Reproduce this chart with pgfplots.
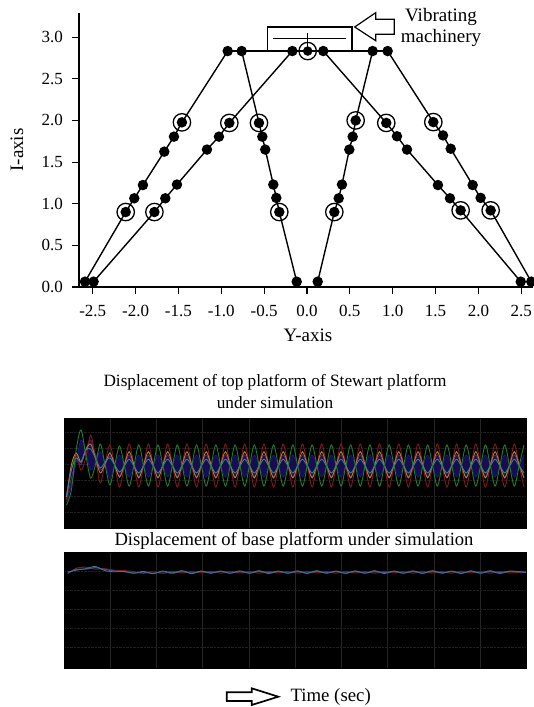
\documentclass[border=0pt]{standalone}
\usepackage{pgfplots}
\pgfplotsset{compat=1.18}
\usepackage{pgfplotstable}
\usepackage{fontspec}
\setmainfont{Liberation Serif}

\definecolor{sgreen}{HTML}{1C7F2C}
\definecolor{sred}{HTML}{7E1A18}
\definecolor{sorange}{HTML}{B57E2E}
\definecolor{steal}{HTML}{35808A}
\definecolor{sblue}{HTML}{1C1A86}
\definecolor{spurple}{HTML}{5E1F80}
\definecolor{lens}{HTML}{160E50}

% top platform, sampled four times a period
\pgfplotstableread{
x g r o t b p
0.53 -2.56 -2.25 -2.06 -1.94 -2.38 -2.25
1.53 -1.63 -0.38 -0.06 -0.38 -1.31 -0.88
2.53 0.88 0.56 0.69 0.38 0.12 0.25
3.53 2.13 -0.38 0.12 0.12 1.50 -0.06
4.53 0.56 0.38 0.88 0.88 0.75 0.88
5.53 -0.88 1.81 1.25 0.94 -0.38 1.50
6.53 -0.06 0.38 0.38 0.38 0.12 0.56
7.53 1.25 -1.19 -0.56 -0.25 0.75 -0.38
8.53 -0.06 0.06 0 0.12 0 0
9.53 -1.31 1.19 0.69 0.38 -0.88 0.50
10.53 -0.06 -0.06 -0.06 -0.06 -0.06 -0.06
11.53 1.12 -1.44 -0.81 -0.50 0.56 -0.81
12.53 -0.10 -0.10 -0.05 -0.13 -0.12 -0.12
13.53 -1.38 1.25 0.77 0.30 -0.81 0.56
14.53 -0.10 -0.10 -0.05 -0.13 -0.12 -0.12
15.53 1.19 -1.44 -0.87 -0.56 0.56 -0.81
16.53 -0.10 -0.10 -0.05 -0.13 -0.12 -0.12
17.53 -1.38 1.25 0.77 0.30 -0.81 0.56
18.53 -0.10 -0.10 -0.05 -0.13 -0.12 -0.12
19.53 1.19 -1.44 -0.87 -0.56 0.56 -0.81
20.53 -0.10 -0.10 -0.05 -0.13 -0.12 -0.12
21.53 -1.38 1.25 0.77 0.30 -0.81 0.56
22.53 -0.10 -0.10 -0.05 -0.13 -0.12 -0.12
23.53 1.19 -1.44 -0.87 -0.56 0.56 -0.81
24.53 -0.10 -0.10 -0.05 -0.13 -0.12 -0.12
25.53 -1.38 1.25 0.77 0.30 -0.81 0.56
26.53 -0.10 -0.10 -0.05 -0.13 -0.12 -0.12
27.53 1.19 -1.44 -0.87 -0.56 0.56 -0.81
28.53 -0.10 -0.10 -0.05 -0.13 -0.12 -0.12
29.53 -1.38 1.25 0.77 0.30 -0.81 0.56
30.53 -0.10 -0.10 -0.05 -0.13 -0.12 -0.12
31.53 1.19 -1.44 -0.87 -0.56 0.56 -0.81
32.53 -0.10 -0.10 -0.05 -0.13 -0.12 -0.12
33.53 -1.38 1.25 0.77 0.30 -0.81 0.56
34.53 -0.10 -0.10 -0.05 -0.13 -0.12 -0.12
35.53 1.19 -1.44 -0.87 -0.56 0.56 -0.81
36.53 -0.10 -0.10 -0.05 -0.13 -0.12 -0.12
37.53 -1.38 1.25 0.77 0.30 -0.81 0.56
38.53 -0.10 -0.10 -0.05 -0.13 -0.12 -0.12
39.53 1.19 -1.44 -0.87 -0.56 0.56 -0.81
40.53 -0.10 -0.10 -0.05 -0.13 -0.12 -0.12
41.53 -1.38 1.25 0.77 0.30 -0.81 0.56
42.53 -0.10 -0.10 -0.05 -0.13 -0.12 -0.12
43.53 1.19 -1.44 -0.87 -0.56 0.56 -0.81
44.53 -0.10 -0.10 -0.05 -0.13 -0.12 -0.12
45.53 -1.38 1.25 0.77 0.30 -0.81 0.56
46.53 -0.10 -0.10 -0.05 -0.13 -0.12 -0.12
47.53 1.19 -1.44 -0.87 -0.56 0.56 -0.81
48.53 -0.10 -0.10 -0.05 -0.13 -0.12 -0.12
49.53 -1.38 1.25 0.77 0.30 -0.81 0.56
50.53 -0.10 -0.10 -0.05 -0.13 -0.12 -0.12
51.53 1.19 -1.44 -0.87 -0.56 0.56 -0.81
52.53 -0.10 -0.10 -0.05 -0.13 -0.12 -0.12
53.53 -1.38 1.25 0.77 0.30 -0.81 0.56
54.53 -0.10 -0.10 -0.05 -0.13 -0.12 -0.12
55.53 1.19 -1.44 -0.87 -0.56 0.56 -0.81
56.53 -0.10 -0.10 -0.05 -0.13 -0.12 -0.12
57.53 -1.38 1.25 0.77 0.30 -0.81 0.56
58.53 -0.10 -0.10 -0.05 -0.13 -0.12 -0.12
59.53 1.19 -1.44 -0.87 -0.56 0.56 -0.81
60.53 -0.10 -0.10 -0.05 -0.13 -0.12 -0.12
61.53 -1.38 1.25 0.77 0.30 -0.81 0.56
62.53 -0.10 -0.10 -0.05 -0.13 -0.12 -0.12
63.53 1.19 -1.44 -0.87 -0.56 0.56 -0.81
64.53 -0.10 -0.10 -0.05 -0.13 -0.12 -0.12
65.53 -1.38 1.25 0.77 0.30 -0.81 0.56
66.53 -0.10 -0.10 -0.05 -0.13 -0.12 -0.12
67.53 1.19 -1.44 -0.87 -0.56 0.56 -0.81
68.53 -0.10 -0.10 -0.05 -0.13 -0.12 -0.12
69.53 -1.38 1.25 0.77 0.30 -0.81 0.56
70.53 -0.10 -0.10 -0.05 -0.13 -0.12 -0.12
71.53 1.19 -1.44 -0.87 -0.56 0.56 -0.81
72.53 -0.10 -0.10 -0.05 -0.13 -0.12 -0.12
73.53 -1.38 1.25 0.77 0.30 -0.81 0.56
74.53 -0.10 -0.10 -0.05 -0.13 -0.12 -0.12
75.53 1.19 -1.44 -0.87 -0.56 0.56 -0.81
76.53 -0.10 -0.10 -0.05 -0.13 -0.12 -0.12
77.53 -1.38 1.25 0.77 0.30 -0.81 0.56
78.53 -0.10 -0.10 -0.05 -0.13 -0.12 -0.12
79.53 1.19 -1.44 -0.87 -0.56 0.56 -0.81
80.53 -0.10 -0.10 -0.05 -0.13 -0.12 -0.12
81.53 -1.38 1.25 0.77 0.30 -0.81 0.56
82.53 -0.10 -0.10 -0.05 -0.13 -0.12 -0.12
83.53 1.19 -1.44 -0.87 -0.56 0.56 -0.81
84.53 -0.10 -0.10 -0.05 -0.13 -0.12 -0.12
85.53 -1.38 1.25 0.77 0.30 -0.81 0.56
86.53 -0.10 -0.10 -0.05 -0.13 -0.12 -0.12
87.53 1.19 -1.44 -0.87 -0.56 0.56 -0.81
88.53 -0.10 -0.10 -0.05 -0.13 -0.12 -0.12
89.53 -1.38 1.25 0.77 0.30 -0.81 0.56
90.53 -0.10 -0.10 -0.05 -0.13 -0.12 -0.12
91.53 1.19 -1.44 -0.87 -0.56 0.56 -0.81
92.53 -0.10 -0.10 -0.05 -0.13 -0.12 -0.12
93.53 -1.38 1.25 0.77 0.30 -0.81 0.56
94.53 -0.10 -0.10 -0.05 -0.13 -0.12 -0.12
95.53 1.19 -1.44 -0.87 -0.56 0.56 -0.81
}\toptable

% base platform
\pgfplotstableread{
x b r t
0.8 -0.10 -0.14 -0.06
2.5 0.08 0.14 0.04
4.5 0.10 0.20 0.12
6.5 0.18 0.10 0.24
8.5 0.08 0.12 0.02
10.5 0.00 0.04 -0.04
12.5 -0.04 0.02 -0.02
14.5 -0.10 -0.04 -0.12
16.5 -0.06 -0.12 -0.02
18.5 -0.12 -0.04 -0.14
20.5 -0.04 -0.12 0.00
22.5 -0.12 -0.02 -0.10
24.5 -0.02 -0.10 0.02
26.5 -0.10 -0.03 -0.14
28.5 -0.02 -0.10 0.00
30.5 -0.09 -0.02 -0.12
32.5 -0.02 -0.11 0.00
34.5 -0.10 -0.02 -0.12
36.5 -0.03 -0.10 0.01
38.5 -0.10 -0.03 -0.12
40.5 -0.02 -0.11 0.02
42.5 -0.09 -0.02 -0.13
44.5 -0.02 -0.10 0.00
46.5 -0.10 -0.03 -0.12
48.5 -0.03 -0.11 0.01
50.5 -0.10 -0.02 -0.13
52.5 -0.02 -0.10 0.02
54.5 -0.09 -0.03 -0.12
56.5 -0.03 -0.11 0.00
58.5 -0.10 -0.02 -0.13
60.5 -0.02 -0.10 0.01
62.5 -0.10 -0.03 -0.12
64.5 -0.03 -0.11 0.02
66.5 -0.09 -0.02 -0.13
68.5 -0.02 -0.10 0.00
70.5 -0.10 -0.03 -0.12
72.5 -0.03 -0.11 0.01
74.5 -0.10 -0.02 -0.13
76.5 -0.02 -0.10 0.02
78.5 -0.09 -0.03 -0.12
80.5 -0.03 -0.11 0.00
82.5 -0.10 -0.02 -0.13
84.5 -0.02 -0.10 0.01
86.5 -0.10 -0.03 -0.12
88.5 -0.03 -0.11 0.02
90.5 -0.09 -0.02 -0.13
92.5 -0.02 -0.10 0.00
95.9 -0.08 -0.05 -0.06
}\basetable

\pgfplotsset{
  scope panel/.style={
    scale only axis,
    width=462pt,
    xmin=0, xmax=95.95,
    xtick={9.6,19.2,28.8,38.4,48,57.6,67.2,76.8,86.4},
    xticklabels={},
    yticklabels={},
    major tick length=0pt,
    grid=both,
    axis background/.style={fill=black},
    axis line style={line width=0.8pt, black},
    x grid style={gray!28!black, line width=0.6pt},
    y grid style={gray!24!black, densely dotted, line width=0.5pt},
  },
}

\begin{document}
\begin{tikzpicture}[x=1pt,y=1pt]
\useasboundingbox (0,0) rectangle (533,707);

\begin{axis}[
    at={(79pt,420pt)}, anchor=south west,
    scale only axis, width=454pt, height=274pt,
    xmin=-2.66, xmax=2.637,
    ymin=0, ymax=3.29,
    clip=false,
    axis lines=left,
    axis line style={-, line width=1.6pt},
    tick style={black, line width=1.1pt},
    tick align=outside,
    major tick length=7pt,
    xtick={-2.5,-2,-1.5,-1,-0.5,0,0.5,1,1.5,2,2.5},
    xticklabels={-2.5,-2.0,-1.5,-1.0,-0.5,0.0,0.5,1.0,1.5,2.0,2.5},
    ytick={0,0.5,1,1.5,2,2.5,3},
    yticklabels={0.0,0.5,1.0,1.5,2.0,2.5,3.0},
    tick label style={font=\fontsize{17}{19}\selectfont, inner sep=0pt},
    x tick label style={yshift=-11pt},
    y tick label style={xshift=-9pt},
  ]
  \addplot[black, line width=1.4pt, mark=*, mark size=4.5pt, mark options={fill=black, solid}] coordinates {
    (-2.59,0.064)(-2.115,0.90)(-2.015,1.065)(-1.914,1.224)(-1.665,1.625)(-1.552,1.805)(-1.459,1.977)(-0.925,2.833)};
  \addplot[black, line width=1.4pt, mark=*, mark size=4.5pt, mark options={fill=black, solid}] coordinates {
    (-2.49,0.064)(-1.78,0.90)(-1.653,1.065)(-1.517,1.23)(-1.167,1.65)(-1.027,1.805)(-0.906,1.97)(-0.171,2.833)};
  \addplot[black, line width=1.4pt, mark=*, mark size=4.5pt, mark options={fill=black, solid}] coordinates {
    (-0.762,2.833)(-0.56,1.97)(-0.521,1.805)(-0.487,1.65)(-0.393,1.23)(-0.358,1.07)(-0.323,0.90)(-0.12,0.064)};
  \addplot[black, line width=1.4pt, mark=*, mark size=4.5pt, mark options={fill=black, solid}] coordinates {
    (0.125,0.064)(0.319,0.90)(0.37,1.065)(0.408,1.23)(0.494,1.65)(0.533,1.805)(0.568,2.0)(0.766,2.833)};
  \addplot[black, line width=1.4pt, mark=*, mark size=4.5pt, mark options={fill=black, solid}] coordinates {
    (0.19,2.833)(0.925,1.97)(1.05,1.81)(1.167,1.65)(1.528,1.224)(1.668,1.065)(1.793,0.92)(2.494,0.064)};
  \addplot[black, line width=1.4pt, mark=*, mark size=4.5pt, mark options={fill=black, solid}] coordinates {
    (0.941,2.833)(1.474,1.98)(1.587,1.82)(1.677,1.66)(1.933,1.224)(2.026,1.07)(2.143,0.92)(2.617,0.064)};
  % platform line with the middle joint
  \addplot[black, line width=1.5pt, mark=none] coordinates {(-0.925,2.833)(0.941,2.833)};
  \addplot[black, only marks, mark=*, mark size=4.5pt] coordinates {(0.008,2.833)};
  % joints that carry a ring
  \addplot[black, only marks, mark=o, mark size=8.7pt, mark options={line width=1.3pt}] coordinates {
    (-2.115,0.90)(-1.459,1.977)(-1.78,0.90)(-0.906,1.97)(-0.56,1.97)(-0.323,0.90)
    (0.319,0.90)(0.568,2.0)(0.925,1.97)(1.793,0.92)(1.474,1.98)(2.143,0.92)(0.008,2.833)};
\end{axis}

% vibrating machinery on the platform
\draw[black, line width=1.2pt] (267.7,656) -- (267.7,680) -- (352,680) -- (352,656);
\draw[black, line width=1.2pt] (273,668.3) -- (346,668.3);
\draw[black, line width=1.2pt] (307.3,674) -- (307.3,660);
\draw[black, line width=1.2pt] (354.7,680) -- (375.7,694.3) -- (375.7,687.7) -- (394.3,687.7)
  -- (394.3,672.7) -- (375.7,672.7) -- (375.7,666.3) -- cycle;
\node[font=\fontsize{19}{21}\selectfont] at (441,690) {Vibrating};
\node[font=\fontsize{19}{21}\selectfont] at (441,669) {machinery};
\node[font=\fontsize{19}{21}\selectfont, rotate=90] at (17,557) {I-axis};
\node[font=\fontsize{19}{21}\selectfont] at (308,372) {Y-axis};

\node[font=\fontsize{17.25}{19}\selectfont] at (275,324.5) {Displacement of top platform of Stewart platform};
\node[font=\fontsize{17.25}{19}\selectfont] at (275,304) {under simulation};

\begin{axis}[
    scope panel,
    at={(64pt,179pt)}, anchor=south west,
    height=110pt,
    ymin=-4, ymax=2.875,
    ytick={-3,-2,-1,0,1,2},
  ]
  % the dark lenses between the blue and the purple trace
  \addplot[fill=lens, draw=none] coordinates {
    (0.53,-2.25)(1.53,-0.88)(2.53,0.25)(3.53,1.5)(4.53,0.88)(5.53,1.5)(6.53,0.56)(7.53,0.75)(8.53,0)(9.53,0.5)(10.53,-0.06)(11.53,0.56)
    (12.53,-0.12)(13.53,0.56)(14.53,-0.12)(15.53,0.56)(16.53,-0.12)(17.53,0.56)(18.53,-0.12)(19.53,0.56)(20.53,-0.12)(21.53,0.56)
    (22.53,-0.12)(23.53,0.56)(24.53,-0.12)(25.53,0.56)(26.53,-0.12)(27.53,0.56)(28.53,-0.12)(29.53,0.56)(30.53,-0.12)(31.53,0.56)
    (32.53,-0.12)(33.53,0.56)(34.53,-0.12)(35.53,0.56)(36.53,-0.12)(37.53,0.56)(38.53,-0.12)(39.53,0.56)(40.53,-0.12)(41.53,0.56)
    (42.53,-0.12)(43.53,0.56)(44.53,-0.12)(45.53,0.56)(46.53,-0.12)(47.53,0.56)(48.53,-0.12)(49.53,0.56)(50.53,-0.12)(51.53,0.56)
    (52.53,-0.12)(53.53,0.56)(54.53,-0.12)(55.53,0.56)(56.53,-0.12)(57.53,0.56)(58.53,-0.12)(59.53,0.56)(60.53,-0.12)(61.53,0.56)
    (62.53,-0.12)(63.53,0.56)(64.53,-0.12)(65.53,0.56)(66.53,-0.12)(67.53,0.56)(68.53,-0.12)(69.53,0.56)(70.53,-0.12)(71.53,0.56)
    (72.53,-0.12)(73.53,0.56)(74.53,-0.12)(75.53,0.56)(76.53,-0.12)(77.53,0.56)(78.53,-0.12)(79.53,0.56)(80.53,-0.12)(81.53,0.56)
    (82.53,-0.12)(83.53,0.56)(84.53,-0.12)(85.53,0.56)(86.53,-0.12)(87.53,0.56)(88.53,-0.12)(89.53,0.56)(90.53,-0.12)(91.53,0.56)
    (92.53,-0.12)(93.53,0.56)(94.53,-0.12)(95.53,0.56)
    (95.53,-0.81)(94.53,-0.12)(93.53,-0.81)(92.53,-0.12)
    (91.53,-0.81)(90.53,-0.12)(89.53,-0.81)(88.53,-0.12)(87.53,-0.81)(86.53,-0.12)(85.53,-0.81)(84.53,-0.12)(83.53,-0.81)(82.53,-0.12)
    (81.53,-0.81)(80.53,-0.12)(79.53,-0.81)(78.53,-0.12)(77.53,-0.81)(76.53,-0.12)(75.53,-0.81)(74.53,-0.12)(73.53,-0.81)(72.53,-0.12)
    (71.53,-0.81)(70.53,-0.12)(69.53,-0.81)(68.53,-0.12)(67.53,-0.81)(66.53,-0.12)(65.53,-0.81)(64.53,-0.12)(63.53,-0.81)(62.53,-0.12)
    (61.53,-0.81)(60.53,-0.12)(59.53,-0.81)(58.53,-0.12)(57.53,-0.81)(56.53,-0.12)(55.53,-0.81)(54.53,-0.12)(53.53,-0.81)(52.53,-0.12)
    (51.53,-0.81)(50.53,-0.12)(49.53,-0.81)(48.53,-0.12)(47.53,-0.81)(46.53,-0.12)(45.53,-0.81)(44.53,-0.12)(43.53,-0.81)(42.53,-0.12)
    (41.53,-0.81)(40.53,-0.12)(39.53,-0.81)(38.53,-0.12)(37.53,-0.81)(36.53,-0.12)(35.53,-0.81)(34.53,-0.12)(33.53,-0.81)(32.53,-0.12)
    (31.53,-0.81)(30.53,-0.12)(29.53,-0.81)(28.53,-0.12)(27.53,-0.81)(26.53,-0.12)(25.53,-0.81)(24.53,-0.12)(23.53,-0.81)(22.53,-0.12)
    (21.53,-0.81)(20.53,-0.12)(19.53,-0.81)(18.53,-0.12)(17.53,-0.81)(16.53,-0.12)(15.53,-0.81)(14.53,-0.12)(13.53,-0.81)(12.53,-0.12)
    (11.53,-0.81)(10.53,-0.06)(9.53,-0.88)(8.53,0)(7.53,-0.38)(6.53,0.12)(5.53,-0.38)(4.53,0.75)(3.53,-0.06)(2.53,0.12)(1.53,-1.31)(0.53,-2.38)
  } -- cycle;
  \addplot[spurple, line width=0.8pt, smooth] table[x=x, y=p] {\toptable};
  \addplot[sblue, line width=0.8pt, smooth] table[x=x, y=b] {\toptable};
  \addplot[sred, line width=0.9pt, smooth] table[x=x, y=r] {\toptable};
  \addplot[sorange, line width=0.9pt, smooth] table[x=x, y=o] {\toptable};
  \addplot[steal, line width=0.9pt, smooth] table[x=x, y=t] {\toptable};
  \addplot[sgreen, line width=0.9pt, smooth] table[x=x, y=g] {\toptable};
\end{axis}

\node[font=\fontsize{18.6}{21}\selectfont] at (294,166) {Displacement of base platform under simulation};

\begin{axis}[
    scope panel,
    at={(64pt,39pt)}, anchor=south west,
    height=116pt,
    ymin=-5.1, ymax=1,
    ytick={-4,-3,-2,-1,0},
  ]
  \addplot[sred, line width=1pt, smooth] table[x=x, y=r] {\basetable};
  \addplot[sblue!80!white, line width=1pt, smooth] table[x=x, y=b] {\basetable};
  \addplot[steal, line width=0.8pt, smooth] table[x=x, y=t] {\basetable};
\end{axis}

\draw[black, line width=1.7pt] (226.7,14.7) -- (251.7,14.7) -- (251.7,18.7) -- (278.3,10.3)
  -- (251.7,2) -- (251.7,6) -- (226.7,6) -- cycle;
\node[font=\fontsize{18.8}{21}\selectfont, anchor=west] at (287,10) {Time (sec)};
\end{tikzpicture}
\end{document}
